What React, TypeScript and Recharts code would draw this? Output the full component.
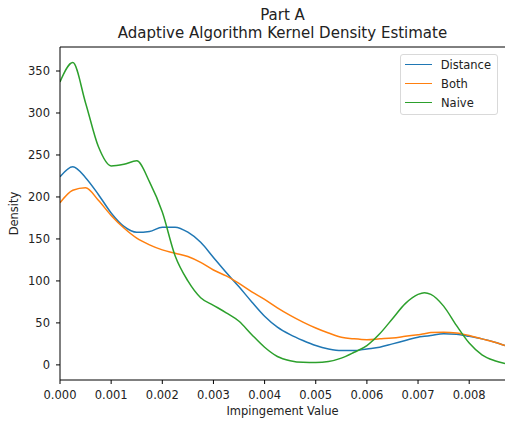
import { LineChart, Line, XAxis, YAxis, ReferenceLine, Legend } from "recharts";

// x positions in thousandths of impingement value
const xK = [
  0, 0.25, 0.5, 0.75, 1, 1.25, 1.5, 1.75, 2, 2.25, 2.5, 2.75, 3, 3.25, 3.5, 3.75, 4, 4.25,
  4.5, 4.75, 5, 5.25, 5.5, 5.75, 6, 6.25, 6.5, 6.75, 7, 7.125, 7.25, 7.5, 7.75, 8, 8.25, 8.5, 8.7,
];

const distance = [
  224, 236, 223, 203, 181, 165, 158, 159, 164, 164, 158, 146, 128, 110, 93, 75, 58, 45,
  36, 29, 23, 19, 17, 17, 19, 21, 25, 29, 33, 34, 35, 37, 36.5, 34, 31, 27, 23,
];

const both = [
  193, 208, 211, 196, 178, 163, 151, 143, 137, 133, 129, 122, 113, 106, 97, 87, 78, 68,
  59, 51, 44, 38, 33, 31, 30, 31, 32, 34, 36, 37, 38.5, 39, 38, 35, 31, 27, 23,
];

const naive = [
  337, 360, 312, 260, 237, 239, 243, 218, 182, 130, 100, 80, 71, 62, 52, 36, 21, 10,
  5, 3, 2.8, 4, 8, 15, 23, 37, 55, 73, 84, 86, 84, 70, 47, 26, 12, 5, 1.5,
];

const xTicks = [0, 0.001, 0.002, 0.003, 0.004, 0.005, 0.006, 0.007, 0.008];
const yTicks = [0, 50, 100, 150, 200, 250, 300, 350];

const series = [
  { key: "distance", name: "Distance", color: "#1f77b4" },
  { key: "both", name: "Both", color: "#ff7f0e" },
  { key: "naive", name: "Naive", color: "#2ca02c" },
];

const rows = xK.map((k, i) => ({
  x: k / 1000,
  distance: distance[i],
  both: both[i],
  naive: naive[i],
}));

const font = "'DejaVu Sans', sans-serif";
const yMax = 378.6;

function LegendBox() {
  return (
    <div
      style={{
        border: "1px solid #d9d9d9",
        borderRadius: 3,
        background: "#fff",
        padding: "0px 6px 2px 4px",
        width: 86,
        fontFamily: font,
        fontSize: 11.5,
        color: "#222",
      }}
    >
      {series.map((s) => (
        <div key={s.key} style={{ display: "flex", alignItems: "center", height: 19 }}>
          <span style={{ display: "inline-block", width: 27, height: 0, borderTop: `1.5px solid ${s.color}`, marginRight: 9 }} />
          <span>{s.name}</span>
        </div>
      ))}
    </div>
  );
}

export default function App() {
  return (
    <div style={{ position: "fixed", left: 0, top: 0, width: 505, height: 425, background: "#fff", overflow: "hidden", fontFamily: font }}>
      <div style={{ position: "absolute", left: 60, width: 445, top: 6, textAlign: "center", fontSize: 15, lineHeight: "18px", color: "#222" }}>
        <div>Part A</div>
        <div>Adaptive Algorithm Kernel Density Estimate</div>
      </div>
      <LineChart width={505} height={425} data={rows} margin={{ top: 47, right: 0, bottom: 0, left: 0 }}>
        <XAxis
          dataKey="x"
          type="number"
          domain={[0, 0.0087]}
          allowDataOverflow
          ticks={xTicks}
          tickFormatter={(v: number) => v.toFixed(3)}
          height={45}
          tickSize={4}
          tickMargin={7}
          stroke="#000"
          tick={{ fill: "#222", fontSize: 11.5, fontFamily: font }}
          label={{ value: "Impingement Value", position: "insideBottom", offset: 10, fill: "#222", fontSize: 11.5, fontFamily: font }}
        />
        <YAxis
          type="number"
          domain={[-18, yMax]}
          allowDataOverflow
          ticks={yTicks}
          width={60}
          tickSize={4}
          tickMargin={6}
          stroke="#000"
          tick={{ fill: "#222", fontSize: 11.5, fontFamily: font }}
          label={{ value: "Density", angle: -90, position: "insideLeft", offset: 14, fill: "#222", fontSize: 11.5, fontFamily: font, style: { textAnchor: "middle" } }}
        />
        <ReferenceLine y={yMax} stroke="#000" strokeWidth={1} />
        {series.map((s) => (
          <Line
            key={s.key}
            dataKey={s.key}
            name={s.name}
            type="monotone"
            stroke={s.color}
            strokeWidth={1.5}
            dot={false}
            isAnimationActive={false}
          />
        ))}
        <Legend
          layout="vertical"
          align="center"
          verticalAlign="middle"
          content={() => <LegendBox />}
          wrapperStyle={{ position: "absolute", top: 54, left: 400, width: "auto" }}
        />
      </LineChart>
    </div>
  );
}
